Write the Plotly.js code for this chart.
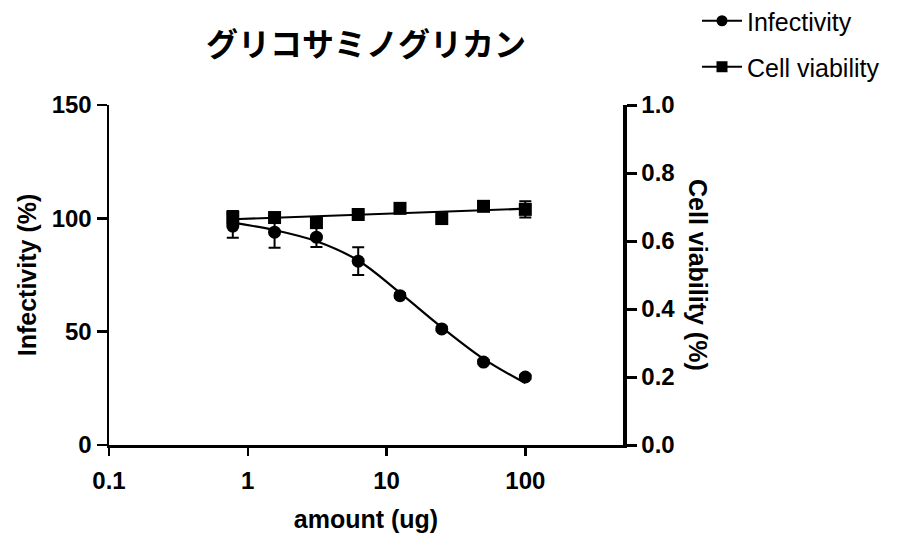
<!DOCTYPE html>
<html>
<head>
<meta charset="utf-8">
<script src="https://cdn.plot.ly/plotly-3.0.1.min.js"></script>
<style>html,body{margin:0;padding:0;background:#fff;}#chart{width:899px;height:533px;}</style>
</head>
<body>
<div id="chart"></div>
<script>
// ---- data ----
const doses = [0.78, 1.56, 3.125, 6.25, 12.5, 25, 50, 100];
const infectivity = [96.6, 93.9, 91.7, 81.1, 65.9, 51.2, 36.6, 30.0];
const infectivityErr = [5.2, 6.9, 4.4, 6.1, 1.0, 1.0, 1.0, 1.0];
const infectivityFit = [98.1, 94.8, 89.9, 81.4, 67.1, 51.9, 38.0, 27.3];
const viability = [0.670, 0.669, 0.654, 0.678, 0.696, 0.666, 0.702, 0.693];
const viabilityErr = [0.018, 0.008, 0.008, 0.008, 0.008, 0.008, 0.008, 0.024];
const viabilityFitX = [0.78, 100];
const viabilityFitY = [0.664, 0.695];
const xTickVals = [0.1, 1, 10, 100];
const xTickText = ['0.1', '1', '10', '100'];
const yTickVals = [0, 50, 100, 150];
const y2TickVals = [0, 0.2, 0.4, 0.6, 0.8, 1.0];

const sans = 'Liberation Sans, Arial, sans-serif';
const black = '#000000';

const traces = [
  {x: doses, y: infectivityFit, mode: 'lines', line: {color: black, width: 2.2, shape: 'spline'},
   showlegend: false, hoverinfo: 'skip', yaxis: 'y'},
  {x: doses, y: infectivity, mode: 'markers', marker: {symbol: 'circle', size: 13, color: black},
   error_y: {type: 'data', array: infectivityErr, color: black, thickness: 2, width: 6},
   showlegend: false, yaxis: 'y'},
  {x: viabilityFitX, y: viabilityFitY, mode: 'lines', line: {color: black, width: 2.2},
   showlegend: false, hoverinfo: 'skip', yaxis: 'y2'},
  {x: doses, y: viability, mode: 'markers', marker: {symbol: 'square', size: 13, color: black},
   error_y: {type: 'data', array: viabilityErr, color: black, thickness: 2, width: 6},
   showlegend: false, yaxis: 'y2'},
  // legend entries
  {x: [null], y: [null], name: 'Infectivity', mode: 'lines+markers',
   line: {color: black, width: 2}, marker: {symbol: 'circle', size: 11, color: black}, legend: 'legend'},
  {x: [null], y: [null], name: 'Cell viability', mode: 'lines+markers',
   line: {color: black, width: 2}, marker: {symbol: 'square', size: 11, color: black}, legend: 'legend2', yaxis: 'y2'}
];

const legendBase = {xref: 'container', yref: 'container', xanchor: 'left', yanchor: 'middle',
  font: {family: sans, size: 25, color: black}, bgcolor: 'rgba(0,0,0,0)', itemwidth: 40};

const layout = {
  width: 899, height: 533,
  paper_bgcolor: '#ffffff', plot_bgcolor: '#ffffff',
  margin: {l: 109, r: 276, t: 105, b: 88},
  title: {text: 'グリコサミノグリカン', font: {family: 'Noto Sans CJK JP', size: 32, weight: 700, color: black},
    x: 0.5, xref: 'paper', xanchor: 'center', y: 1 - 45 / 533, yref: 'container', yanchor: 'middle'},
  xaxis: {type: 'log', range: [-1, 2.704], tickvals: xTickVals, ticktext: xTickText, automargin: false,
    showline: true, linecolor: black, linewidth: 2.5, ticks: 'outside', ticklen: 8, tickwidth: 2.5, tickcolor: black,
    showgrid: false, zeroline: false, ticklabelstandoff: 5,
    tickfont: {family: sans, size: 24, weight: 700, color: black},
    title: {text: 'amount (ug)', font: {family: sans, size: 25, weight: 700, color: black}, standoff: 20}},
  yaxis: {range: [0, 150], tickvals: yTickVals, automargin: false,
    showline: true, linecolor: black, linewidth: 2.5, ticks: 'outside', ticklen: 10, tickwidth: 2.5, tickcolor: black,
    showgrid: false, zeroline: false,
    tickfont: {family: sans, size: 24, weight: 700, color: black},
    title: {text: 'Infectivity (%)', font: {family: sans, size: 25, weight: 700, color: black}, standoff: 8}},
  yaxis2: {range: [0, 1], tickvals: y2TickVals, tickformat: '.1f', overlaying: 'y', side: 'right', anchor: 'x',
    automargin: false,
    showline: true, linecolor: black, linewidth: 3.5, ticks: 'outside', ticklen: 10, tickwidth: 3, tickcolor: black,
    showgrid: false, zeroline: false,
    tickfont: {family: sans, size: 24, weight: 700, color: black}},
  annotations: [{text: 'Cell viability (%)', textangle: 90, xref: 'paper', yref: 'paper',
    x: (698 - 109) / 514, y: 0.5, xanchor: 'center', yanchor: 'middle', showarrow: false,
    font: {family: sans, size: 25, weight: 700, color: black}}],
  legend: Object.assign({}, legendBase, {x: 697 / 899, y: 1 - 21 / 533}),
  legend2: Object.assign({}, legendBase, {x: 697 / 899, y: 1 - 67 / 533}),
  showlegend: true
};

Plotly.newPlot('chart', traces, layout, {displayModeBar: false, staticPlot: true});
</script>
</body>
</html>
